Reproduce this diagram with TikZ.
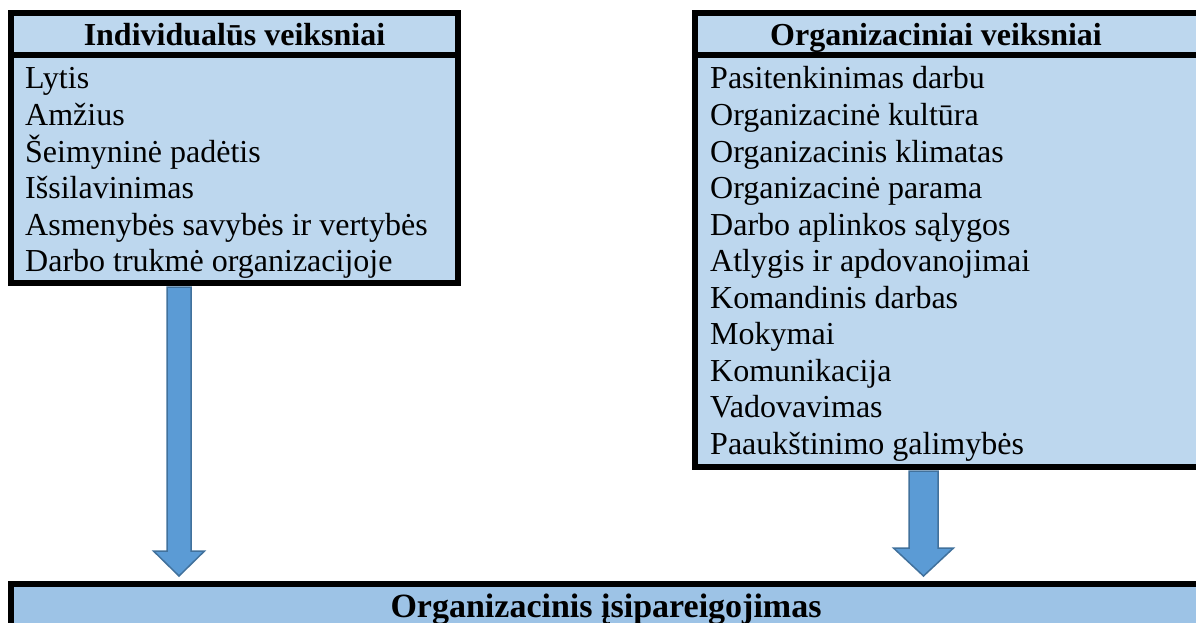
\documentclass[tikz,border=0pt]{standalone}
\usepackage{fontspec}
\setmainfont{Liberation Serif}
\usetikzlibrary{calc}
\definecolor{factorblue}{HTML}{BDD7EE}
\definecolor{resultblue}{HTML}{9DC3E6}
\definecolor{arrowblue}{HTML}{5B9BD5}
\definecolor{arrowedge}{HTML}{41719C}
\tikzset{
    factor-box/.style = {draw=black, fill=factorblue, line width=6pt, rectangle, inner sep=0pt},
    result-box/.style = {draw=black, fill=resultblue, line width=6pt, rectangle, inner sep=0pt},
    factor-title/.style = {anchor=base, inner sep=0pt, font=\bfseries\fontsize{32}{36}\selectfont},
    factor-item/.style = {anchor=base west, inner sep=0pt, font=\fontsize{32}{36}\selectfont},
    result-title/.style = {anchor=base, inner sep=0pt, font=\bfseries\fontsize{34}{40}\selectfont},
    title-rule/.style = {draw=black, line width=6pt},
    fat-arrow/.style = {fill=arrowblue, draw=arrowedge, line width=1.5pt, line join=miter},
}

\begin{document}
\begin{tikzpicture}[x=1pt, y=-1pt]
\useasboundingbox (0,0) rectangle (1196,623);
\clip (0,0) rectangle (1196,623);

% the three boxes
\node [factor-box, minimum width=447pt, minimum height=270pt] (indiv) at (234.5,148) {};
\node [factor-box, minimum width=515pt, minimum height=454pt] (org) at (952.5,240) {};
\node [result-box, minimum width=1190pt, minimum height=76pt] (commit) at (606,622) {};

% header rows
\draw [title-rule] ($(indiv.north west)+(0,45)$) -- ($(indiv.north east)+(0,45)$);
\draw [title-rule] ($(org.north west)+(0,45)$) -- ($(org.north east)+(0,45)$);
\node [factor-title] (indiv-title) at (234.5,46) {Individualūs veiksniai};
\node [factor-title] (org-title) at (936,46) {Organizaciniai veiksniai};

% lists
\foreach \name [count=\i] in {Lytis, Amžius, Šeimyninė padėtis, Išsilavinimas,
    Asmenybės savybės ir vertybės, Darbo trukmė organizacijoje}
    \node [factor-item] (indiv-\i) at (25,{89+36.5*(\i-1)}) {\name};
\foreach \name [count=\i] in {Pasitenkinimas darbu, Organizacinė kultūra,
    Organizacinis klimatas, Organizacinė parama, Darbo aplinkos sąlygos,
    Atlygis ir apdovanojimai, Komandinis darbas, Mokymai, Komunikacija,
    Vadovavimas, Paaukštinimo galimybės}
    \node [factor-item] (org-\i) at (710,{89+36.5*(\i-1)}) {\name};

\node [result-title] (commit-title) at (606,617) {Organizacinis įsipareigojimas};

% arrows
\coordinate (indiv-out) at (179,0 |- indiv.south);
\coordinate (indiv-in) at ($(179,0 |- commit.north)+(0,-5)$);
\coordinate (org-out) at (923.5,0 |- org.south);
\coordinate (org-in) at ($(923.5,0 |- commit.north)+(0,-5)$);

\draw [fat-arrow] ($(indiv-out)+(-12,1)$) -- ($(indiv-in)+(-12,-25)$)
    -- ($(indiv-in)+(-25.5,-25)$) -- (indiv-in) -- ($(indiv-in)+(25.5,-25)$)
    -- ($(indiv-in)+(12,-25)$) -- ($(indiv-out)+(12,1)$) -- cycle;
\draw [fat-arrow] ($(org-out)+(-14.5,1)$) -- ($(org-in)+(-14.5,-28)$)
    -- ($(org-in)+(-30,-28)$) -- (org-in) -- ($(org-in)+(30,-28)$)
    -- ($(org-in)+(14.5,-28)$) -- ($(org-out)+(14.5,1)$) -- cycle;
\end{tikzpicture}
\end{document}
